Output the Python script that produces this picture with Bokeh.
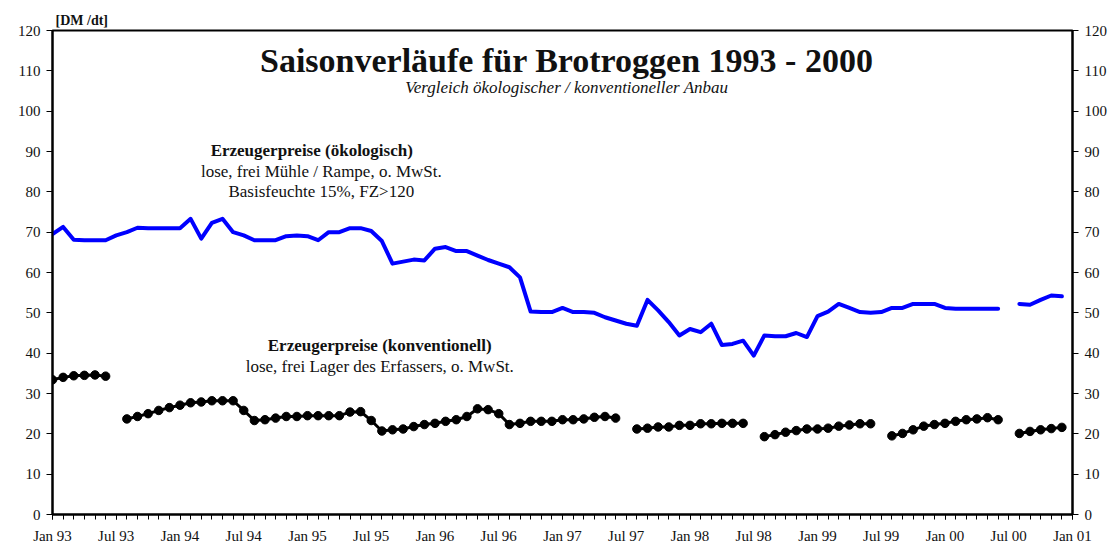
from bokeh.plotting import figure
from bokeh.models import Range1d, LinearAxis, FixedTicker, Label
from bokeh.embed import file_html
from bokeh.resources import INLINE

nan = float("nan")

# month index: 0 = Jan 93 ... 95 = Dec 00
months = list(range(96))

# Erzeugerpreise (ökologisch), DM/dt
eco = [69.5, 71.3, 68.1, 68, 68, 68, 69.2, 70, 71.1, 71, 71, 71,
       71, 73.3, 68.4, 72.3, 73.3, 70, 69.2, 68, 68, 68, 69, 69.2,
       69, 68, 70, 70, 71, 71, 70.3, 67.8, 62.2, 62.7, 63.2, 63,
       65.9, 66.3, 65.3, 65.3, 64.2, 63.1, 62.2, 61.3, 58.8, 50.3, 50.2, 50.2,
       51.2, 50.2, 50.2, 50, 48.9, 48.1, 47.3, 46.8, 53.2, 50.6, 47.7, 44.4,
       46, 45.2, 47.3, 42, 42.3, 43.1, 39.4, 44.4, 44.2, 44.2, 45, 44,
       49.2, 50.3, 52.2, 51.2, 50.2, 50, 50.2, 51.2, 51.2, 52.2, 52.2, 52.2,
       51.2, 51, 51, 51, 51, 51, nan, 52.2, 52, 53.2, 54.3, 54.1]

# Erzeugerpreise (konventionell), DM/dt
conv = [33.4, 34.0, 34.4, 34.5, 34.6, 34.3, nan, 23.7, 24.3, 25.0, 25.8, 26.5,
        27.1, 27.7, 27.9, 28.2, 28.2, 28.2, 25.8, 23.3, 23.5, 23.9, 24.3, 24.3,
        24.5, 24.5, 24.5, 24.5, 25.4, 25.5, 23.3, 20.7, 21.0, 21.2, 21.8, 22.3,
        22.6, 23.1, 23.5, 24.3, 26.2, 26.0, 25.0, 22.3, 22.6, 23.1, 23.1, 23.1,
        23.5, 23.5, 23.7, 24.1, 24.3, 23.9, nan, 21.2, 21.4, 21.7, 21.7, 22.1,
        22.1, 22.5, 22.5, 22.6, 22.6, 22.6, nan, 19.3, 19.8, 20.4, 20.8, 21.2,
        21.2, 21.4, 21.9, 22.2, 22.5, 22.5, nan, 19.5, 20.1, 21.0, 21.9, 22.3,
        22.6, 23.1, 23.5, 23.7, 24.0, 23.5, nan, 20.1, 20.6, 21.0, 21.3, 21.6]

x_tick_pos = list(range(0, 97, 6))
x_tick_labels = ["Jan 93", "Jul 93", "Jan 94", "Jul 94", "Jan 95", "Jul 95",
                 "Jan 96", "Jul 96", "Jan 97", "Jul 97", "Jan 98", "Jul 98",
                 "Jan 99", "Jul 99", "Jan 00", "Jul 00", "Jan 01"]
y_ticks = list(range(0, 121, 10))

FONT = "Liberation Serif"

p = figure(width=1110, height=546, output_backend="svg", toolbar_location=None,
           x_range=Range1d(0, 96), y_range=Range1d(0, 120),
           min_border_left=52, min_border_right=37, min_border_top=30,
           min_border_bottom=32)
p.grid.visible = False
p.outline_line_color = "black"
p.outline_line_width = 2
p.background_fill_color = "white"
p.border_fill_color = "white"

p.title.text = "[DM /dt]"
p.title.align = "left"
p.title.offset = 3
p.title.standoff = 6
p.title.text_font = FONT
p.title.text_font_size = "14px"
p.title.text_font_style = "bold"
p.title.text_color = "#111111"

xa = p.xaxis[0]
xa.ticker = FixedTicker(ticks=x_tick_pos, minor_ticks=months + [96])
xa.major_label_overrides = {t: l for t, l in zip(x_tick_pos, x_tick_labels)}
xa.major_tick_in = 0
xa.major_tick_out = 5
xa.minor_tick_in = 0
xa.minor_tick_out = 5
xa.axis_line_width = 2
xa.major_tick_line_width = 1
xa.minor_tick_line_width = 1
xa.major_label_standoff = 8
xa.major_label_text_font = FONT
xa.major_label_text_font_size = "15px"
xa.major_label_text_color = "#111111"

def style_y(ax):
    ax.ticker = FixedTicker(ticks=y_ticks)
    ax.major_tick_in = 0
    ax.major_tick_out = 6
    ax.minor_tick_out = 0
    ax.minor_tick_in = 0
    ax.axis_line_width = 2
    ax.major_tick_line_width = 1
    ax.major_label_standoff = 6
    ax.major_label_text_font = FONT
    ax.major_label_text_font_size = "15px"
    ax.major_label_text_color = "#111111"

style_y(p.yaxis[0])
ra = LinearAxis()
style_y(ra)
p.add_layout(ra, "right")

p.line(months, eco, line_color="#0000FF", line_width=4,
       line_join="round", line_cap="round")
p.line(months, conv, line_color="black", line_width=3, line_join="round")
p.scatter(months, conv, size=8.5, fill_color="black", line_color="black")

def lab(x, y, text, size, style="normal", align="center"):
    p.add_layout(Label(x=x, y=y, text=text, text_font=FONT,
                       text_font_size=size, text_font_style=style,
                       text_align=align, text_baseline="middle",
                       text_color="#111111"))

lab(48.4, 112.6, "Saisonverläufe für Brotroggen 1993 - 2000", "34px", "bold")
lab(48.4, 105.9, "Vergleich ökologischer / konventioneller Anbau", "17px", "italic")
lab(24.4, 90.3, "Erzeugerpreise (ökologisch)", "17px", "bold")
lab(25.3, 85.0, "lose, frei Mühle / Rampe, o. MwSt.", "17px")
lab(25.3, 80.1, "Basisfeuchte 15%, FZ>120", "17px")
lab(30.8, 41.9, "Erzeugerpreise (konventionell)", "17px", "bold")
lab(30.8, 36.7, "lose, frei Lager des Erfassers, o. MwSt.", "17px")

open("out.html", "w").write(file_html(p, INLINE))
